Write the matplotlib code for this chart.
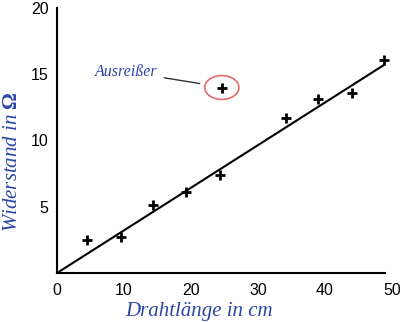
import matplotlib
matplotlib.use('Agg')
import matplotlib.pyplot as plt
from matplotlib.patches import Ellipse

plt.rcParams['mathtext.fontset'] = 'custom'
plt.rcParams['mathtext.bf'] = 'Liberation Serif:bold'
plt.rcParams['mathtext.rm'] = 'Liberation Serif'

# measured wire length (cm) and resistance (Ohm)
length = [4.5, 9.6, 14.3, 19.3, 24.3, 24.6, 34.2, 39.0, 44.0, 48.8]
resistance = [2.5, 2.7, 5.1, 6.1, 7.4, 14.0, 11.7, 13.1, 13.6, 16.1]

# fitted line
fit_x = [0, 48.8]
fit_y = [0, 15.7]

outlier_x = 24.6
outlier_y = 14.0

xticks = [0, 10, 20, 30, 40, 50]
yticks = [5, 10, 15, 20]

blue = '#2a45a8'

fig = plt.figure(figsize=(4.0, 3.22), dpi=100)
ax = fig.add_axes([57 / 400, 49 / 322, 335 / 400, 265 / 322])

ax.plot(fit_x, fit_y, color='black', lw=1.5)
ax.plot(length, resistance, linestyle='none', marker='+', color='black',
        markersize=6.5, markeredgewidth=2)

ax.add_patch(Ellipse((outlier_x, outlier_y), 5.1, 1.8, fill=False,
                     edgecolor='#e86a6a', lw=1.2))
ax.annotate('Ausreißer', xy=(21.3, 14.3), xytext=(10.3, 15.2),
            ha='center', va='center', color=blue, fontsize=11.5,
            family='Liberation Serif', style='italic',
            arrowprops=dict(arrowstyle='-', color='#333333', lw=1,
                            shrinkA=3, shrinkB=0))

ax.set_xlim(0, 50)
ax.set_ylim(0, 20)
ax.set_xticks(xticks)
ax.set_yticks(yticks)
ax.tick_params(length=0, labelsize=11.5)
ax.tick_params(axis='x', pad=7)
ax.tick_params(axis='y', pad=6)
for lbl in ax.get_xticklabels() + ax.get_yticklabels():
    lbl.set_family('Liberation Sans')

ax.spines['top'].set_visible(False)
ax.spines['right'].set_visible(False)
ax.spines['left'].set_linewidth(1.5)
ax.spines['bottom'].set_linewidth(1.5)
ax.spines['bottom'].set_bounds(0, 49)

ax.set_xlabel('Drahtlänge in cm', color=blue, fontsize=15,
              family='Liberation Serif', style='italic')
ax.set_ylabel(r'Widerstand in $\mathbf{\Omega}$', color=blue, fontsize=15,
              family='Liberation Serif', style='italic', va='center')
ax.xaxis.set_label_coords((199 - 57) / 335, -0.11)
ax.yaxis.set_label_coords((13 - 57) / 335, (273 - 162) / 265)

fig.savefig('out.png', dpi=100)
